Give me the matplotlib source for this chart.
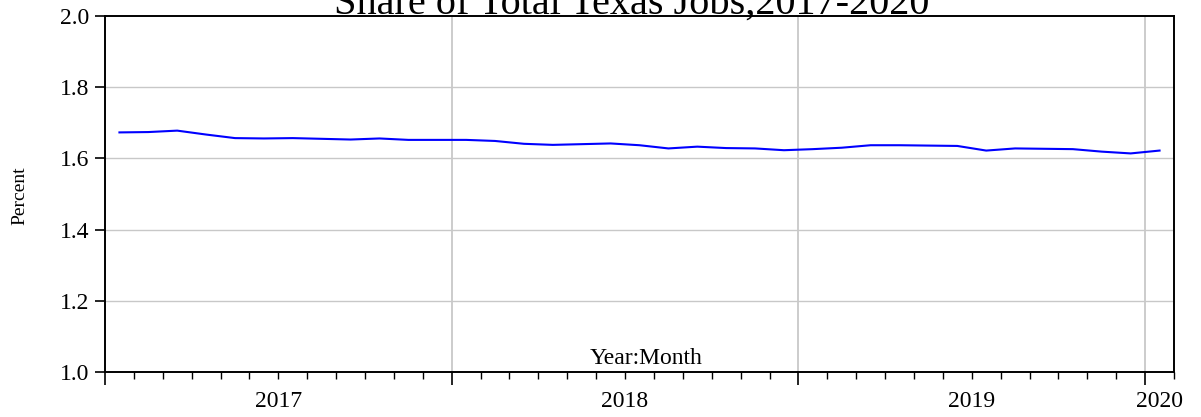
import matplotlib
matplotlib.use("Agg")
import matplotlib.pyplot as plt
import numpy as np

plt.rcParams['font.family'] = ['Liberation Serif', 'DejaVu Serif']

title = "Share of Total Texas Jobs,2017-2020"
ylabel = "Percent"
xlabel = "Year:Month"

# Monthly observations 2017:01 .. 2020:01
share = [1.673, 1.674, 1.678, 1.667, 1.657, 1.656, 1.657, 1.655, 1.653, 1.656, 1.652, 1.652,
         1.652, 1.649, 1.641, 1.638, 1.640, 1.642, 1.637, 1.628, 1.633, 1.629, 1.628, 1.623,
         1.626, 1.630, 1.637, 1.637, 1.636, 1.635, 1.622, 1.628, 1.627, 1.626, 1.619, 1.614,
         1.622]
year_labels = ["2017", "2018", "2019", "2020"]
yticks = [1.0, 1.2, 1.4, 1.6, 1.8, 2.0]

n = len(share)
x = np.arange(n) + 0.5  # points plotted mid-month

fig = plt.figure(figsize=(12.01, 4.17), dpi=100)
ax = fig.add_axes([105/1201, 1 - 372/417, 1069/1201, 356/417])

grid_c = '#c8c8c8'
for yv in yticks[1:-1]:
    ax.axhline(yv, color=grid_c, lw=1.0, zorder=1)
year_starts = list(range(0, n + 1, 12))
for xs in year_starts[1:]:
    ax.axvline(xs, color=grid_c, lw=1.3, zorder=1)

ax.plot(x, share, color='#0000ff', lw=1.5, zorder=3)

ax.set_xlim(0, n)
ax.set_ylim(1.0, 2.0)
ax.set_yticks(yticks)
ax.set_yticklabels([f"{v:.1f}" for v in yticks], fontsize=17)
ax.tick_params(axis='y', direction='out', length=7, width=1.2, pad=4, right=False)

ax.set_xticks(year_starts)
ax.set_xticklabels([])
ax.set_xticks(range(0, n + 1), minor=True)
ax.tick_params(axis='x', which='major', direction='out', length=9, width=1.2)
ax.tick_params(axis='x', which='minor', direction='out', length=5, width=1.0)

for s in ax.spines.values():
    s.set_linewidth(1.4)
    s.set_color('black')

label_pos = [6, 18, 30, 36.5]
for lab, xp in zip(year_labels, label_pos):
    ax.annotate(lab, xy=(xp, 0), xycoords=('data', 'axes fraction'),
                xytext=(0, -21), textcoords='offset points',
                ha='center', va='center', fontsize=17)

ax.text(0.506, 0.008, xlabel, transform=ax.transAxes, ha='center', va='bottom', fontsize=17)

fig.text(20/1201, 1 - 196/417, ylabel, rotation=90, ha='center', va='center', fontsize=14)
fig.text(632/1201, 1 - 14/417, title, ha='center', va='baseline', fontsize=29)

fig.savefig("out.png", dpi=100)
